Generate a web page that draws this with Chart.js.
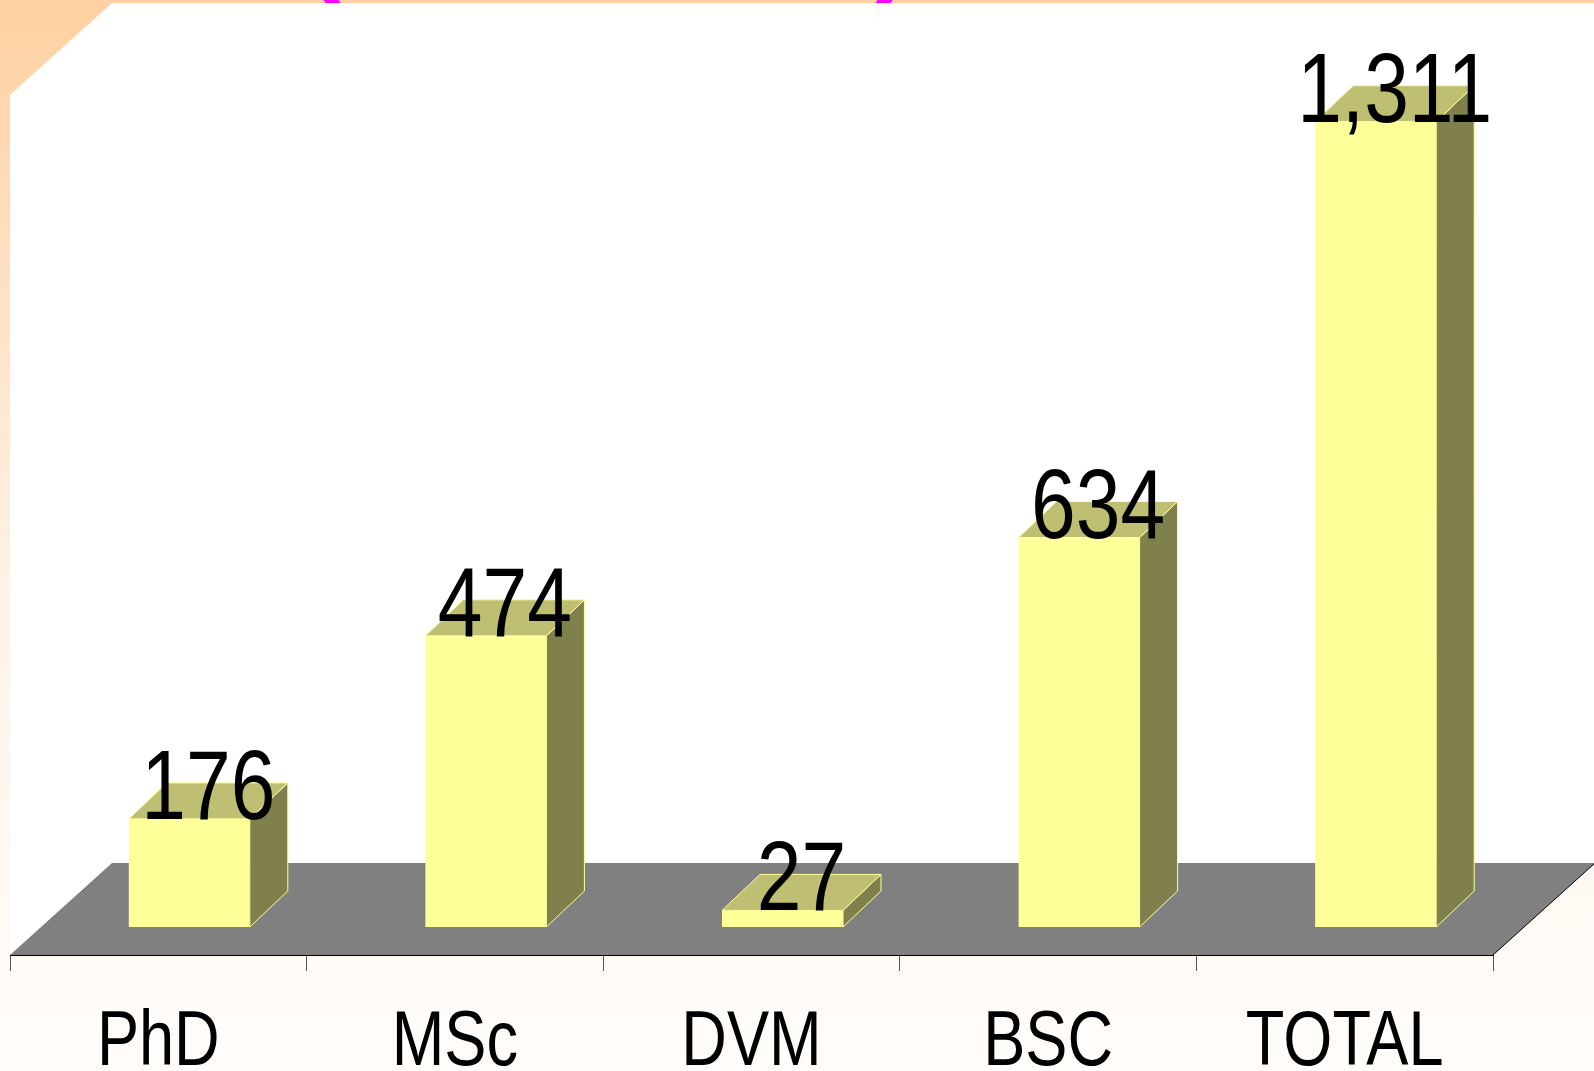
<!DOCTYPE html>
<html lang="en">
<head>
  <meta charset="UTF-8">
  <meta name="viewport" content="width=device-width, initial-scale=1.0">
  <title>Graduates</title>
  <script src="https://cdn.jsdelivr.net/npm/chart.js"></script>
  <style>
body {
  margin: 0;
  padding: 0;
  background: #fffdfb;
  overflow: hidden;
}

.chart-box {
  position: relative;
  width: 1594px;
  height: 1071px;
}
  </style>
</head>
<body>
  <div class="chart-box">
    <canvas id="degreeChart"></canvas>
  </div>

  <script>
    // data
    const categories = ['PhD', 'MSc', 'DVM', 'BSC', 'TOTAL'];
    const counts = [176, 474, 27, 634, 1311];
    const yMax = 1400;

    // no narrow font installed, so Liberation Sans is squeezed sideways when drawn
    const FONT = '"Liberation Sans", Arial, sans-serif';
    const SQUEEZE = 0.82;

    // colours of the 3d boxes
    const FRONT = '#ffff99';
    const TOP = '#bfbf73';
    const SIDE = '#80804c';
    const EDGE = '#ffff99';

    // projection of the floor / wall depth and the bar depth
    const WALL_DX = 102, WALL_DY = 92;
    const BAR_SHIFT_X = 31, BAR_SHIFT_Y = 28;
    const BAR_DX = 38, BAR_DY = 36;

    function poly(ctx, pts, fill, stroke) {
      ctx.beginPath();
      ctx.moveTo(pts[0][0], pts[0][1]);
      for (let i = 1; i < pts.length; i++) ctx.lineTo(pts[i][0], pts[i][1]);
      ctx.closePath();
      if (fill) { ctx.fillStyle = fill; ctx.fill(); }
      if (stroke) { ctx.strokeStyle = stroke; ctx.lineWidth = 1; ctx.stroke(); }
    }

    function narrowText(ctx, text, x, y) {
      ctx.save();
      ctx.translate(x, y);
      ctx.scale(SQUEEZE, 1);
      ctx.fillText(text, 0, 0);
      ctx.restore();
    }

    const scenePlugin = {
      id: 'scene',
      beforeDraw(chart) {
        const ctx = chart.ctx;
        const a = chart.chartArea;
        const y = chart.scales.y;
        ctx.save();

        // slide background
        const g = ctx.createLinearGradient(0, 0, 0, chart.height);
        g.addColorStop(0, '#ffd1a2');
        g.addColorStop(0.55, '#fff2e6');
        g.addColorStop(1, '#fffdfb');
        ctx.fillStyle = g;
        ctx.fillRect(0, 0, chart.width, chart.height);

        // bits of the title that is cut off
        ctx.fillStyle = '#ff00ff';
        ctx.font = 'bold 110px ' + FONT;
        ctx.textAlign = 'center';
        ctx.textBaseline = 'alphabetic';
        const d = ctx.measureText('(').actualBoundingBoxDescent;
        ctx.fillText('(', 323, 3.5 - d);
        ctx.fillText(')', 893, 3.5 - d);

        // back + side wall
        const top = y.getPixelForValue(yMax);
        poly(ctx, [
          [a.left, a.bottom], [a.left, top], [a.left + WALL_DX, top - WALL_DY],
          [a.right + WALL_DX, top - WALL_DY], [a.right + WALL_DX, a.bottom - WALL_DY],
          [a.right, a.bottom]
        ], '#ffffff');

        // floor
        poly(ctx, [
          [a.left, a.bottom], [a.left + WALL_DX, a.bottom - WALL_DY],
          [a.right + WALL_DX, a.bottom - WALL_DY], [a.right, a.bottom]
        ], '#808080');
        ctx.beginPath();
        ctx.moveTo(a.right, a.bottom);
        ctx.lineTo(a.right + WALL_DX, a.bottom - WALL_DY);
        ctx.strokeStyle = '#000000';
        ctx.lineWidth = 1;
        ctx.stroke();
        ctx.restore();
      },
      afterDatasetsDraw(chart) {
        const ctx = chart.ctx;
        const meta = chart.getDatasetMeta(0);
        ctx.save();
        meta.data.forEach((bar) => {
          const l = bar.x - bar.width / 2 + BAR_SHIFT_X;
          const r = bar.x + bar.width / 2 + BAR_SHIFT_X;
          const t = bar.y - BAR_SHIFT_Y;
          const b = bar.base - BAR_SHIFT_Y;
          ctx.fillStyle = FRONT;
          ctx.fillRect(l, t, r - l, b - t);
          poly(ctx, [[r, t], [r + BAR_DX, t - BAR_DY], [r + BAR_DX, b - BAR_DY], [r, b]], SIDE, EDGE);
          poly(ctx, [[l, t], [l + BAR_DX, t - BAR_DY], [r + BAR_DX, t - BAR_DY], [r, t]], TOP, EDGE);
        });
        // value labels on top of the boxes
        ctx.fillStyle = '#000000';
        ctx.font = '98px ' + FONT;
        ctx.textAlign = 'center';
        ctx.textBaseline = 'alphabetic';
        meta.data.forEach((bar, i) => {
          const cx = bar.x + BAR_SHIFT_X + BAR_DX / 2;
          narrowText(ctx, counts[i].toLocaleString('en-US'), cx, bar.y - BAR_SHIFT_Y);
        });
        ctx.restore();
      },
      afterDraw(chart) {
        // category names under the axis
        const ctx = chart.ctx;
        const xs = chart.scales.x;
        ctx.save();
        ctx.fillStyle = '#000000';
        ctx.font = '77px ' + FONT;
        ctx.textAlign = 'center';
        ctx.textBaseline = 'alphabetic';
        xs.ticks.forEach((t, i) => {
          narrowText(ctx, xs.getLabelForValue(t.value), xs.getPixelForTick(i), chart.chartArea.bottom + 110);
        });
        ctx.restore();
      }
    };

    new Chart(document.getElementById('degreeChart'), {
      type: 'bar',
      data: {
        labels: categories,
        datasets: [{
          data: counts,
          backgroundColor: 'rgba(0,0,0,0)',
          borderWidth: 0,
          barPercentage: 1,
          categoryPercentage: 0.408
        }]
      },
      options: {
        responsive: true,
        maintainAspectRatio: false,
        animation: false,
        layout: { padding: { top: 95, left: 10, right: 101, bottom: 0 } },
        plugins: {
          legend: { display: false },
          tooltip: { enabled: false }
        },
        scales: {
          x: {
            afterFit: (s) => { s.height = 116; },
            grid: {
              drawOnChartArea: false,
              drawTicks: true,
              tickLength: 16,
              color: '#555555'
            },
            border: { color: '#000000', width: 1 },
            ticks: {
              color: 'rgba(0,0,0,0)',
              font: { family: FONT, size: 77 }
            }
          },
          y: {
            display: false,
            min: 0,
            max: yMax
          }
        }
      },
      plugins: [scenePlugin]
    });
  </script>
</body>
</html>
